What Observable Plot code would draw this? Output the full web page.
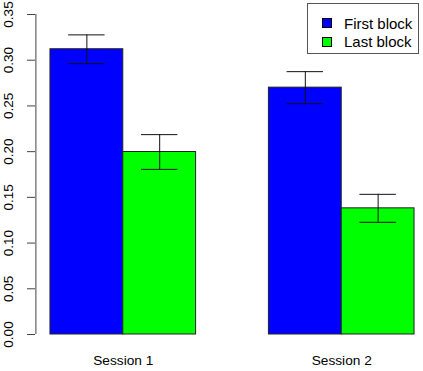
<!DOCTYPE html>
<html>
<head>
<meta charset="utf-8">
<script src="https://cdn.jsdelivr.net/npm/d3@7"></script>
<script src="https://cdn.jsdelivr.net/npm/@observablehq/plot@0.6"></script>
<style>
  body { margin: 0; background: #fff; }
  #wrap { position: relative; width: 423px; height: 371px; font-family: "Liberation Sans", Arial, Helvetica, sans-serif; }
  #legend { position: absolute; left: 307px; top: 3px; width: 110px; height: 49px; border: 1.5px solid #555; background: #fff; }
  .row { position: absolute; left: 0; height: 18px; display: flex; align-items: center; font-size: 15px; color: #000; }
  .sw { width: 8px; height: 8px; border: 1px solid #000; margin-left: 13.5px; margin-right: 12.5px; }
</style>
</head>
<body>
<div id="wrap"></div>
<script>
const sessions = ["Session 1", "Session 2"];
const blocks = ["First block", "Last block"];
const colors = ["#0000ff", "#00ff00"];
const means = [[0.312, 0.1996], [0.270, 0.138]];
const ses = [[0.0157, 0.019], [0.0175, 0.0153]];
const yTicks = [0, 0.05, 0.10, 0.15, 0.20, 0.25, 0.30, 0.35];
const xDomain = [0.8, 6.2];

const rows = [];
sessions.forEach((s, i) => blocks.forEach((b, j) => {
  const x1 = 1 + i * 3 + j;
  rows.push({session: s, block: b, color: colors[j], mean: means[i][j], se: ses[i][j], x1, x2: x1 + 1, xc: x1 + 0.5});
}));
const groupLabels = sessions.map((s, i) => ({label: s, x: 2 + i * 3}));

const chart = Plot.plot({
  width: 423,
  height: 371,
  marginTop: 14,
  marginBottom: 37,
  marginLeft: 35,
  marginRight: 0,
  style: {fontFamily: '"Liberation Sans", Arial, Helvetica, sans-serif', background: "#fff"},
  x: {domain: xDomain, range: [35.4, 428.6], axis: null},
  y: {domain: [0, 0.35], axis: null},
  marks: [
    Plot.rectY(rows, {x1: "x1", x2: "x2", y1: 0, y2: "mean", fill: "color", stroke: "#222", strokeWidth: 1}),
    Plot.ruleX(rows, {x: "xc", y1: d => d.mean - d.se, y2: d => d.mean + d.se, stroke: "#111", strokeWidth: 1}),
    Plot.ruleY(rows, {y: d => d.mean + d.se, x1: d => d.xc - 0.25, x2: d => d.xc + 0.25, stroke: "#111", strokeWidth: 1}),
    Plot.ruleY(rows, {y: d => d.mean - d.se, x1: d => d.xc - 0.25, x2: d => d.xc + 0.25, stroke: "#111", strokeWidth: 1}),
    Plot.ruleX([xDomain[0]], {y1: 0, y2: 0.35, stroke: "#444", strokeWidth: 1}),
    Plot.axisY({ticks: yTicks, label: null, tickSize: 8, tickPadding: 15, tickRotate: -90, tickFormat: d3.format(".2f"), fontSize: 13.5, stroke: "#444", fill: "#000"}),
    Plot.text(groupLabels, {x: "x", y: 0, text: "label", dy: 26.5, fontSize: 13.7, fill: "#000", lineAnchor: "middle"})
  ]
});

const wrap = document.getElementById("wrap");
wrap.appendChild(chart);
const legend = document.createElement("div");
legend.id = "legend";
blocks.forEach((b, j) => {
  const r = document.createElement("div");
  r.className = "row";
  r.style.top = (10 + j * 18.5) + "px";
  const sw = document.createElement("div");
  sw.className = "sw";
  sw.style.background = colors[j];
  r.appendChild(sw);
  const t = document.createElement("span");
  t.textContent = b;
  r.appendChild(t);
  legend.appendChild(r);
});
wrap.appendChild(legend);
</script>
</body>
</html>
